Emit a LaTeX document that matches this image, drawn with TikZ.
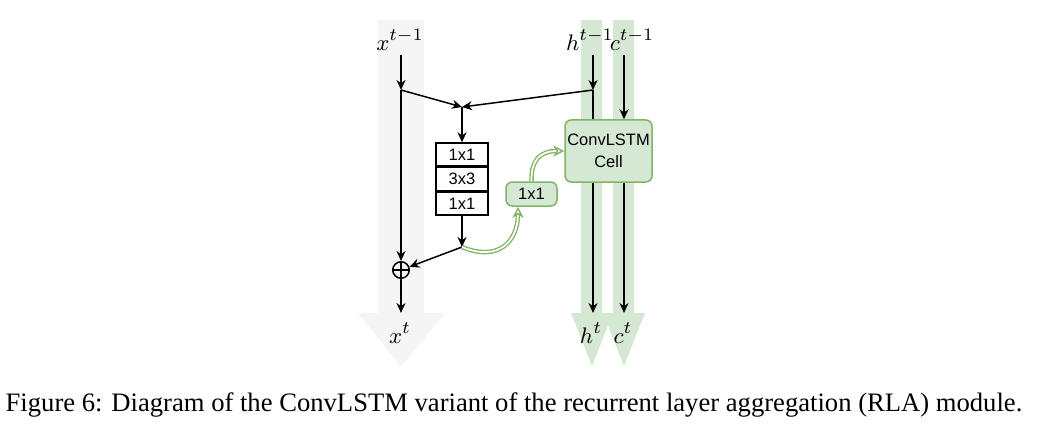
\documentclass[tikz,border=0pt]{standalone}
\usepackage{fontspec}
\setmainfont{Liberation Serif}
\newfontfamily\boxfont{Liberation Sans}
\usetikzlibrary{arrows.meta}
\definecolor{grayarrow}{HTML}{F5F5F5}
\definecolor{gfill}{HTML}{D5E8D4}
\definecolor{gline}{HTML}{82B366}
\begin{document}
\begin{tikzpicture}[x=0.4pt,y=-0.4pt,
  arr/.style={-{Stealth[length=4pt,width=3.6pt]}, line width=0.6pt},
  ln/.style={line width=0.6pt},
  lbl/.style={font=\fontsize{9.5}{11}\selectfont, inner sep=0pt},
  layerbox/.style={draw, line width=0.6pt, minimum width=20.8pt, minimum height=9.2pt, inner sep=0pt, font=\boxfont\fontsize{6.6}{7.5}\selectfont},
  greenbox/.style={draw=gline, fill=gfill, line width=0.6pt, rounded corners=2.5pt, inner sep=0pt, align=center, font=\boxfont\fontsize{6.6}{8}\selectfont},
  glink/.style={draw=gline, double=white, double distance=0.7pt, line width=0.55pt, -{Stealth[open, length=4.5pt, width=4.5pt]}}
]
\useasboundingbox (0,0) rectangle (1050,426);
% background arrows
\fill[grayarrow] (378,20) -- (424,20) -- (424,313) -- (445,313) -- (401,367) -- (358,313) -- (378,313) -- cycle;
\fill[gfill] (581,20) -- (602,20) -- (602,313) -- (613,313) -- (592,366) -- (571,313) -- (581,313) -- cycle;
\fill[gfill] (613,20) -- (634,20) -- (634,313) -- (645,313) -- (624,366) -- (603,313) -- (613,313) -- cycle;

% labels
\node[lbl] (lxin) at (400,40) {$x^{t-1}$};
\node[lbl] (lhin) at (590,40) {$h^{t-1}$};
\node[lbl] (lcin) at (632,40) {$c^{t-1}$};
\node[lbl] (lxout) at (400,333) {$x^{t}$};
\node[lbl] (lhout) at (591,333) {$h^{t}$};
\node[lbl] (lcout) at (623,333) {$c^{t}$};

% coordinates
\coordinate (xin) at (401,55);
\coordinate (jx) at (401,90);
\coordinate (merge) at (462,107);
\coordinate (hin) at (593,55);
\coordinate (jh) at (593,90);
\coordinate (cin) at (624,55);
\coordinate (jb) at (462,247);
\coordinate (xout) at (401,313);
\coordinate (hout) at (593,313);
\coordinate (cout) at (624,313);

% boxes
\node[layerbox] (b1) at (462,154.5) {1x1};
\node[layerbox, anchor=north] (b2) at (b1.south) {3x3};
\node[layerbox, anchor=north] (b3) at (b2.south) {1x1};
\node[greenbox, minimum width=34.8pt, minimum height=24.8pt] (cell) at (608.5,151) {ConvLSTM\\[1pt]Cell};
\node[greenbox, minimum width=20.4pt, minimum height=9.6pt] (g11) at (531.5,194) {1x1};
\node[draw, circle, line width=0.6pt, inner sep=0pt, minimum size=6.6pt] (op) at (401,270) {};
\draw[ln] (op.north) -- (op.south) (op.west) -- (op.east);

% connectors
\draw[arr] (xin) -- (jx);
\draw[arr] (hin) -- (jh);
\draw[arr] (jx) -- (merge);
\draw[arr] (jh) -- (merge);
\draw[arr] (merge) -- (b1.north);
\draw[arr] (b3.south) -- (jb);
\draw[arr] (jx) -- (op.north);
\draw[arr] (jb) -- (op);
\draw[arr] (op.south) -- (xout);
\draw[ln] (jh) -- (cell.north -| jh);
\draw[arr] (cin) -- (cell.north -| cin);
\draw[arr] (cell.south -| jh) -- (hout);
\draw[arr] (cell.south -| cin) -- (cout);

% green links
\draw[glink] (jb) .. controls (498,262) and (518,242) .. (g11.south -| 518,0);
\draw[glink] (g11.north) .. controls (531,160) and (540,151) .. (cell.west);

% caption
\node[font=\fontsize{10.65}{12}\selectfont, inner sep=0pt] (cap) at (514,405) {Figure 6: Diagram of the ConvLSTM variant of the recurrent layer aggregation (RLA) module.};
\end{tikzpicture}
\end{document}
